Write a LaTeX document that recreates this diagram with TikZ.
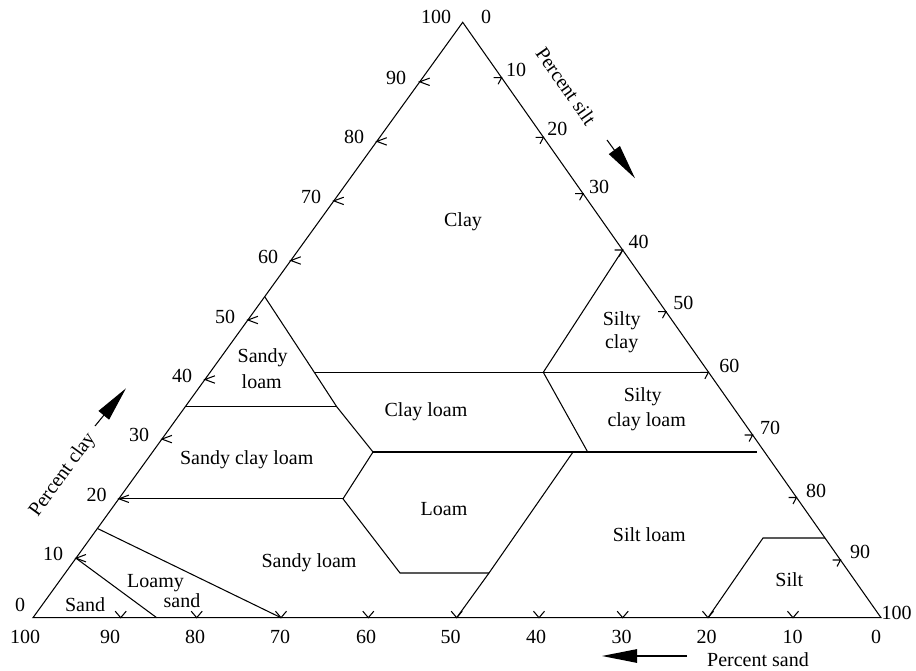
\documentclass[tikz,border=0pt]{standalone}
\usepackage{fontspec}
\setmainfont{Liberation Serif}
\usetikzlibrary{arrows.meta}
\newcommand\LTick[1]{\draw[edge] (#1) ++(10,-3.7) -- (#1) -- ++(10,3.7);}
\newcommand\BTick[1]{\draw[edge] (#1) ++(-5.5,-6.5) -- (#1) -- ++(5.5,-6.5);}
\newcommand\RTick[1]{\draw[edge] (#1) ++(-8,0) -- (#1) -- ++(-3.5,6.5);}
\begin{document}
\begin{tikzpicture}[x=1pt,y=-1pt,
  edge/.style={line width=1.05pt},
  bnd/.style={line width=1.05pt},
  lbl/.style={font=\fontsize{20}{24}\selectfont, inner sep=0pt},
  num/.style={font=\fontsize{20}{24}\selectfont, inner sep=0pt},
  axarrow/.style={line width=1.05pt, -{Triangle[length=35pt,width=13.5pt]}},
]
\useasboundingbox (0,0) rectangle (916,671);
% triangle vertices
\coordinate (A) at (33,617.7);
\coordinate (B) at (881,617.7);
\coordinate (C) at (462.7,22.3);
% left (clay) ticks
\coordinate (L1) at (76.0,558.2);
\coordinate (L2) at (118.9,498.8);
\coordinate (L3) at (161.9,439.1);
\coordinate (L4) at (204.9,379.5);
\coordinate (L5) at (247.9,320.0);
\coordinate (L6) at (290.8,260.5);
\coordinate (L7) at (333.8,200.9);
\coordinate (L8) at (376.8,141.4);
\coordinate (L9) at (419.7,81.8);
% bottom (sand) ticks
\coordinate (S1) at (793,617.7);
\coordinate (S2) at (708,617.7);
\coordinate (S3) at (622.7,617.7);
\coordinate (S4) at (539,617.7);
\coordinate (S5) at (456.7,617.7);
\coordinate (S6) at (368.3,617.7);
\coordinate (S7) at (281,617.7);
\coordinate (S8) at (196.7,617.7);
\coordinate (S9) at (120.7,617.7);
\coordinate (S85) at (156.7,617.7);
% right (silt) ticks
\coordinate (R1) at (501.6,77.7);
\coordinate (R2) at (543.5,137.3);
\coordinate (R3) at (583.1,193.7);
\coordinate (R4) at (622.7,250);
\coordinate (R5) at (666,311.7);
\coordinate (R6) at (708.4,372.3);
\coordinate (R7) at (752.6,435);
\coordinate (R8) at (796.5,497.5);
\coordinate (R9) at (840.5,560);
% region vertices
\coordinate (sl1) at (264.7,296.7);
\coordinate (c40l) at (314.3,372.3);
\coordinate (sl2) at (336.7,406.7);
\coordinate (c35l) at (185.3,406.7);
\coordinate (j1) at (373,452);
\coordinate (scl) at (343,498.8);
\coordinate (lo1) at (400,573);
\coordinate (lo2) at (489,573);
\coordinate (sl3) at (573,452);
\coordinate (sc1) at (543.3,372.3);
\coordinate (sc2) at (587.7,452);
\coordinate (c27r) at (757.3,452);
\coordinate (sil1) at (763,538);
\coordinate (sil2) at (825,538);
\coordinate (c15l) at (97.5,528.5);

% outer triangle
\draw[edge, line join=miter] (A) -- (B) -- (C) -- cycle;

% region boundaries
\draw[bnd] (sl1) -- (c40l) -- (sl2) -- (j1) -- (scl) -- (lo1) -- (lo2);
\draw[bnd] (c40l) -- (sc1) -- (R6);
\draw[bnd] (R4) -- (sc1) -- (sc2);
\draw[bnd] (c35l) -- (sl2);
\draw[bnd] (j1) -- (c27r);
\draw[bnd] (L2) -- (scl);
\draw[bnd] (S5) -- (lo2) -- (sl3);
\draw[bnd] (S2) -- (sil1) -- (sil2);
\draw[bnd] (c15l) -- (S7);
\draw[bnd] (L1) -- (S85);

% ticks
\foreach \k in {1,...,9}{\LTick{L\k}\BTick{S\k}\RTick{R\k}}

% left numbers
\node[num] (nl0) at (20,605) {0};
\node[num] (nl1) at (53,554.2) {10};
\node[num] (nl2) at (96.5,495) {20};
\node[num] (nl3) at (139,435) {30};
\node[num] (nl4) at (182,375.5) {40};
\node[num] (nl5) at (225,316.5) {50};
\node[num] (nl6) at (268,256.5) {60};
\node[num] (nl7) at (311,197) {70};
\node[num] (nl8) at (354,137.4) {80};
\node[num] (nl9) at (396,77.8) {90};
\node[num] (nl10) at (436,17.2) {100};
% right numbers
\node[num] (nr0) at (486,16.5) {0};
\node[num] (nr1) at (516,70) {10};
\node[num] (nr2) at (557.3,129.3) {20};
\node[num] (nr3) at (599,186.5) {30};
\node[num] (nr4) at (638.7,242) {40};
\node[num] (nr5) at (683.3,303.3) {50};
\node[num] (nr6) at (729.3,366) {60};
\node[num] (nr7) at (770,428.3) {70};
\node[num] (nr8) at (816,491) {80};
\node[num] (nr9) at (860,552.3) {90};
\node[num] (nr10) at (896.7,613.3) {100};
% bottom numbers
\node[num] (nb10) at (25,637) {100};
\node[num] (nb9) at (110,637) {90};
\node[num] (nb8) at (195,637) {80};
\node[num] (nb7) at (280,637) {70};
\node[num] (nb6) at (366,637) {60};
\node[num] (nb5) at (450.7,637) {50};
\node[num] (nb4) at (536,637) {40};
\node[num] (nb3) at (621.7,637) {30};
\node[num] (nb2) at (706.7,637) {20};
\node[num] (nb1) at (792.7,637) {10};
\node[num] (nb0) at (876,637) {0};

% region labels
\node[lbl] (tclay) at (463,222) {Clay};
\node[lbl] (tsl1a) at (262.7,357.3) {Sandy};
\node[lbl] (tsl1b) at (261.7,381.7) {loam};
\node[lbl] (tcl) at (426,412) {Clay loam};
\node[lbl] (tsca) at (621.7,320.5) {Silty};
\node[lbl] (tscb) at (621.7,343.3) {clay};
\node[lbl] (tscla) at (642.7,396.7) {Silty};
\node[lbl] (tsclb) at (646.7,421.7) {clay loam};
\node[lbl] (tscl) at (246.7,460) {Sandy clay loam};
\node[lbl] (tloam) at (444,509) {Loam};
\node[lbl] (tsiltl) at (649.3,535) {Silt loam};
\node[lbl] (tsl2) at (309,563) {Sandy loam};
\node[lbl] (tlsa) at (155.5,582.7) {Loamy};
\node[lbl] (tlsb) at (182,600.7) {sand};
\node[lbl] (tsand) at (85,604.3) {Sand};
\node[lbl] (tsilt) at (789.3,580) {Silt};

% axis titles and arrows
\node[lbl, rotate=-55] (psilt) at (566,86) {Percent silt};
\node[lbl, rotate=54] (pclay) at (63,475) {Percent clay};
\node[lbl, anchor=base] (psand) at (758,666.5) {Percent sand};
\coordinate (as1) at (687,656);
\coordinate (as2) at (602,656);
\coordinate (ai1) at (607,140);
\coordinate (ai2) at (635,178.3);
\coordinate (ac1) at (95,426);
\coordinate (ac2) at (126,388.3);
\draw[axarrow] (as1) -- (as2);
\draw[axarrow] (ai1) -- (ai2);
\draw[axarrow] (ac1) -- (ac2);
\end{tikzpicture}
\end{document}
